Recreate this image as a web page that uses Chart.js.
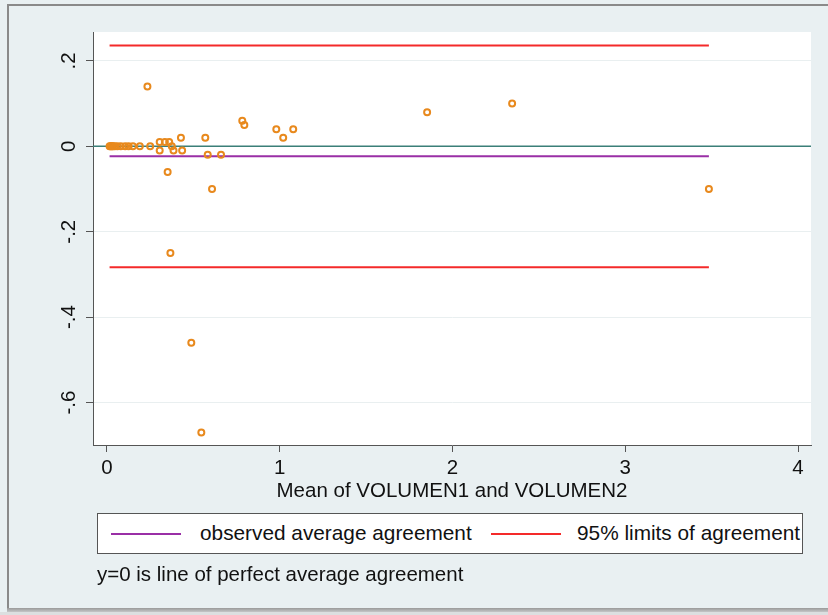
<!DOCTYPE html>
<html><head><meta charset="utf-8">
<script src="https://cdn.jsdelivr.net/npm/chart.js@4.4.1/dist/chart.umd.min.js"></script>
<style>
html,body{margin:0;padding:0;}
body{width:828px;height:615px;position:relative;overflow:hidden;background:#e9f0f2;font-family:"Liberation Sans",Arial,sans-serif;}
#frameTop{position:absolute;left:7px;top:4px;width:821px;height:2px;background:#8a8a8a;}
#frameLeft{position:absolute;left:7px;top:4px;width:2px;height:605px;background:#8a8a8a;}
#frameBottom{position:absolute;left:7px;top:608px;width:821px;height:4px;background:linear-gradient(#9a9a9a,#c4c6c7);}
#below{position:absolute;left:0;top:612px;width:828px;height:3px;background:#dcdfe0;}
#wrap{position:absolute;left:0;top:0;width:828px;height:615px;}
#legend{position:absolute;left:97px;top:513px;width:704px;height:39px;background:#fff;border:1px solid #555;}
.sw{position:absolute;top:19px;height:2px;width:70px;}
.lt{position:absolute;top:7px;font-size:20.8px;line-height:24px;color:#111;white-space:nowrap;}
#note{position:absolute;left:97px;top:562px;font-size:20.5px;line-height:24px;color:#111;white-space:nowrap;}
</style></head>
<body>
<div id="wrap"><canvas id="c" width="828" height="615"></canvas></div>
<div id="frameTop"></div><div id="frameLeft"></div><div id="frameBottom"></div><div id="below"></div>
<div id="legend">
  <div class="sw" style="left:13px;background:#9a2fa6;"></div>
  <div class="lt" style="left:102px;">observed average agreement</div>
  <div class="sw" style="left:393px;background:#f42a2a;"></div>
  <div class="lt" style="left:479px;">95% limits of agreement</div>
</div>
<div id="note">y=0 is line of perfect average agreement</div>
<script>
// ---- data ----
const meanVals = [0.015,0.02,0.025,0.03,0.035,0.045,0.06,0.08,0.105,0.125,0.15,0.19,0.25,0.375,
  0.305,0.335,0.36,0.305,0.385,0.435,
  0.234,0.428,0.569,0.583,0.66,0.351,0.608,0.367,0.488,0.546,
  0.783,0.795,0.98,1.02,1.078,1.853,2.345,3.484];
const diffVals = [0,0,0,0,0,0,0,0,0,0,0,0,0,0,
  0.01,0.01,0.01,-0.01,-0.01,-0.01,
  0.14,0.02,0.02,-0.02,-0.02,-0.06,-0.1,-0.25,-0.46,-0.67,
  0.06,0.05,0.04,0.02,0.04,0.08,0.1,-0.1];
const meanDiff = -0.023;
const upperLimit = 0.236;
const lowerLimit = -0.283;
const xTicks = [0,1,2,3,4];
const xTickLabels = ['0','1','2','3','4'];
const yTicks = [0.2,0,-0.2,-0.4,-0.6];
const yTickLabels = ['.2','0','-.2','-.4','-.6'];
const xLabel = 'Mean of VOLUMEN1 and VOLUMEN2';
const xMin = -0.081, xMax = 4.075;
const yMin = -0.6995, yMax = 0.2677;

const lo = Math.min(...meanVals), hi = Math.max(...meanVals);
const pts = meanVals.map((x,i)=>({x:x,y:diffVals[i]}));
const seg = (a,b,v)=>[{x:a,y:v},{x:b,y:v}];
const FONT = '"Liberation Sans", Arial, sans-serif';

const yLabelPlugin = {
  id:'yLabels',
  afterDraw(chart){
    const ctx = chart.ctx, ys = chart.scales.y;
    ctx.save();
    ctx.fillStyle = '#111';
    ctx.font = '20.5px ' + FONT;
    ctx.textAlign = 'center';
    ctx.textBaseline = 'middle';
    yTicks.forEach((v,i)=>{
      const py = ys.getPixelForValue(v);
      ctx.save();
      ctx.translate(69, py);
      ctx.rotate(-Math.PI/2);
      ctx.fillText(yTickLabels[i], 0, 0);
      ctx.restore();
    });
    ctx.restore();
  }
};
const bgPlugin = {
  id:'plotBg',
  beforeDraw(chart){
    const a = chart.chartArea, ctx = chart.ctx;
    ctx.save(); ctx.fillStyle = '#ffffff';
    ctx.fillRect(a.left, a.top, a.right-a.left, a.bottom-a.top);
    ctx.restore();
  }
};

new Chart(document.getElementById('c'), {
  type:'scatter',
  data:{datasets:[
    {label:'diff', data:pts, order:0, showLine:false, pointStyle:'circle', pointRadius:3,
     pointBorderWidth:2, pointBackgroundColor:'rgba(255,255,255,0)', pointBorderColor:'#e8891d'},
    {label:'zero', data:seg(xMin,xMax,0), order:4, showLine:true, borderColor:'#3b7f78', borderWidth:1.6, pointRadius:0},
    {label:'observed average agreement', data:seg(lo,hi,meanDiff), order:3, showLine:true, borderColor:'#9a2fa6', borderWidth:2, pointRadius:0},
    {label:'95% upper', data:seg(lo,hi,upperLimit), order:2, showLine:true, borderColor:'#f42a2a', borderWidth:2, pointRadius:0},
    {label:'95% lower', data:seg(lo,hi,lowerLimit), order:2, showLine:true, borderColor:'#f42a2a', borderWidth:2, pointRadius:0}
  ]},
  options:{
    responsive:false, animation:false, devicePixelRatio:1,
    layout:{padding:{left:0,top:32,right:17,bottom:111}},
    plugins:{legend:{display:false}, tooltip:{enabled:false}},
    scales:{
      x:{type:'linear', min:xMin, max:xMax,
        afterBuildTicks(s){ s.ticks = xTicks.map(v=>({value:v})); },
        afterFit(s){ s.height = 59; },
        grid:{drawOnChartArea:false, drawTicks:true, tickLength:7, tickColor:'#555', tickWidth:1},
        border:{display:true, color:'#555', width:1},
        ticks:{color:'#111', font:{family:FONT,size:20.5}, padding:4, maxRotation:0,
          callback:(v)=>{const i=xTicks.indexOf(v); return i>=0?xTickLabels[i]:'';}},
        title:{display:true, text:xLabel, color:'#111', font:{family:FONT,size:20.5}, padding:{top:0,bottom:0}}
      },
      y:{type:'linear', min:yMin, max:yMax,
        afterBuildTicks(s){ s.ticks = yTicks.map(v=>({value:v})); },
        afterFit(s){ s.width = 93; },
        grid:{drawOnChartArea:true, color:'#e9eff0', lineWidth:1, drawTicks:true, tickLength:7, tickColor:'#555'},
        border:{display:true, color:'#555', width:1},
        ticks:{display:false}
      }
    }
  },
  plugins:[bgPlugin, yLabelPlugin]
});
</script>
</body></html>
